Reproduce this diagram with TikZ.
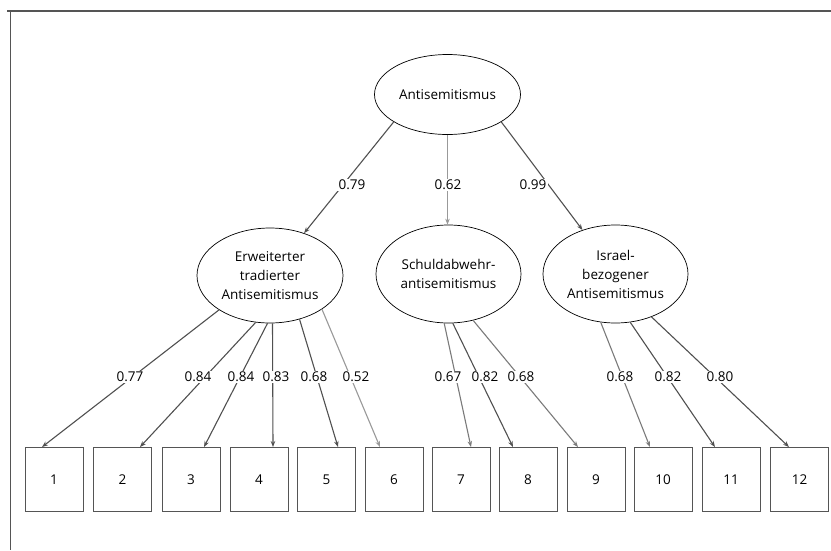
\documentclass[tikz,border=0pt]{standalone}
\usepackage{fontspec}
\setmainfont{Open Sans}
\usetikzlibrary{shapes.geometric,arrows.meta}
\definecolor{lnA}{HTML}{505050}
\definecolor{lnB}{HTML}{7A7A7A}
\definecolor{lnC}{HTML}{999999}
\definecolor{frm}{HTML}{555555}
\definecolor{bxA}{HTML}{555555}
\begin{document}
\begin{tikzpicture}[x=1pt,y=-1pt,
  font=\fontsize{13.5}{19}\selectfont,
  lat/.style={ellipse, draw=black, line width=0.7pt, inner sep=0pt, align=center},
  obs/.style={draw=bxA, line width=0.9pt, minimum width=58pt, minimum height=64pt, inner sep=0pt},
  edge/.style={line width=1.1pt, draw=lnA, -{Stealth[length=6pt,width=4.5pt]}},
  lbl/.style={fill=white, inner sep=1.5pt}]
\useasboundingbox (0,0) rectangle (831,550);
% frame
\draw[line width=1.5pt, draw=frm] (7,11) -- (831,11);
\draw[line width=1.3pt, draw=frm] (10.5,11) -- (10.5,550);
% latent variables
\node[lat, minimum width=146pt, minimum height=80pt] (T) at (447.5,94.5) {Antisemitismus};
\node[lat, minimum width=146pt, minimum height=95pt] (E1) at (270,275.5) {Erweiterter\\tradierter\\Antisemitismus};
\node[lat, minimum width=145pt, minimum height=98pt] (S) at (448.5,274) {Schuldabwehr-\\antisemitismus};
\node[lat, minimum width=145pt, minimum height=98pt] (I) at (615.5,274) {Israel-\\bezogener\\Antisemitismus};
% observed items
\foreach \n/\x in {1/54,2/122.5,3/191,4/259,5/326.5,6/394,7/461,8/528,9/596,10/663,11/731,12/799.5}
  \node[obs] (b\n) at (\x,479.5) {\n};
% top level edges
\draw[edge] (T.-153) -- (E1);
\draw[edge, draw=lnC] (T.south) -- (T.south |- S.north);
\draw[edge] (T.-27) -- (I);
% loadings from E1
\draw[edge] (E1.-146) -- ([xshift=-12pt]b1.north);
\draw[edge] (E1.-107.5) -- ([xshift=17.5pt]b2.north);
\draw[edge] (E1.-93.5) -- ([xshift=13pt]b3.north);
\draw[edge] (E1.-87.6) -- ([xshift=14pt]b4.north);
\draw[edge] (E1.-56) -- ([xshift=11.5pt]b5.north);
\draw[edge, draw=lnC] (E1.-33.6) -- ([xshift=-14pt]b6.north);
% loadings from S
\draw[edge, draw=lnB] (S.-95) -- ([xshift=10pt]b7.north);
\draw[edge] (S.-85) -- ([xshift=-15pt]b8.north);
\draw[edge, draw=lnB] (S.-62) -- ([xshift=-18pt]b9.north);
% loadings from I
\draw[edge, draw=lnB] (I.-107.5) -- ([xshift=-13pt]b10.north);
\draw[edge] (I.-73.5) -- ([xshift=-16pt]b11.north);
\draw[edge] (I.-50.3) -- ([xshift=-10.5pt]b12.north);
% labels
\node[lbl] (l79) at (352,185) {0.79};
\node[lbl] (l62) at (448,185) {0.62};
\node[lbl] (l99) at (533,185) {0.99};
\node[lbl] (l1) at (130,377) {0.77};
\node[lbl] (l2) at (198,377) {0.84};
\node[lbl] (l3) at (241,377) {0.84};
\node[lbl] (l4) at (276,377) {0.83};
\node[lbl] (l5) at (314,377) {0.68};
\node[lbl] (l6) at (356,377) {0.52};
\node[lbl] (l7) at (448,377) {0.67};
\node[lbl] (l8) at (485,377) {0.82};
\node[lbl] (l9) at (521,377) {0.68};
\node[lbl] (l10) at (620,377) {0.68};
\node[lbl] (l11) at (668,377) {0.82};
\node[lbl] (l12) at (720,377) {0.80};
\end{tikzpicture}
\end{document}
